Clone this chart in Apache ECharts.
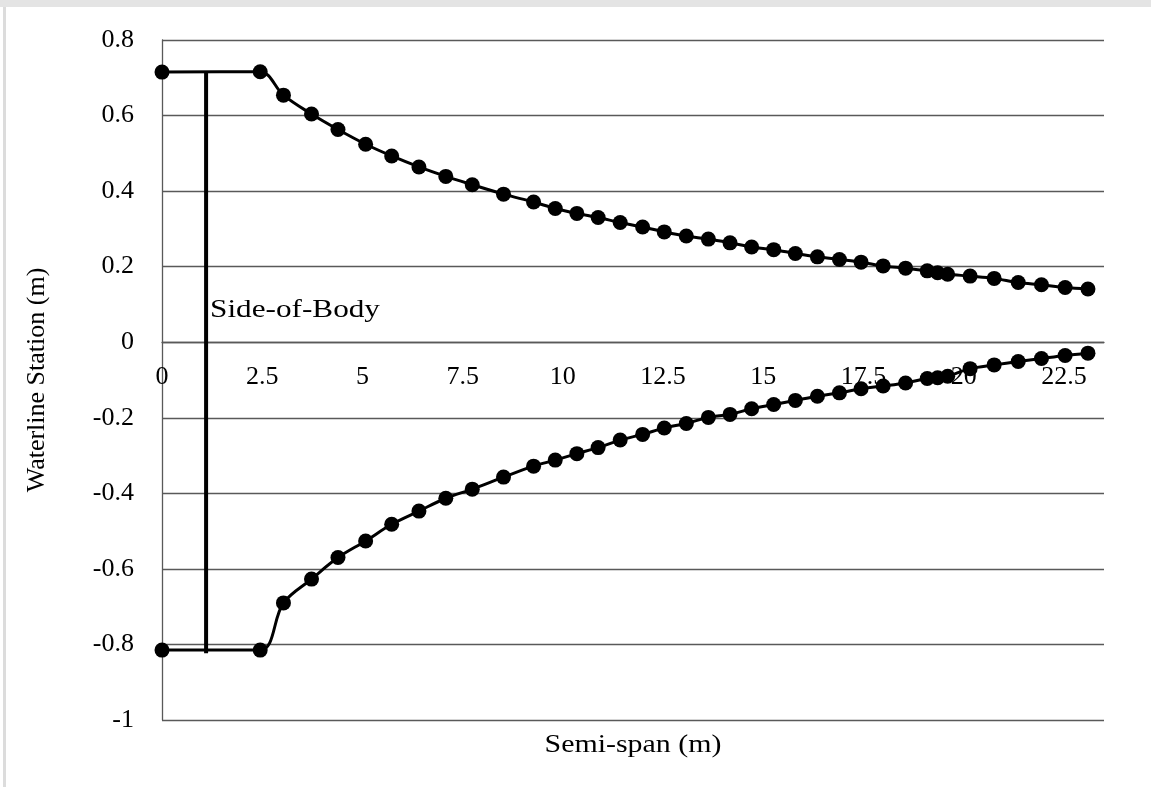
<!DOCTYPE html>
<html>
<head>
<meta charset="utf-8">
<script src="https://cdn.jsdelivr.net/npm/echarts@6/dist/echarts.min.js"></script>
<style>
  html, body { margin: 0; padding: 0; background: #fff; }
  #chart { width: 1151px; height: 787px; }
</style>
</head>
<body>
<div id="chart"></div>
<script>
// Semi-span stations (m) shared by both waterline curves
const spanX = [0, 2.45, 3.03, 3.73, 4.39, 5.08, 5.73, 6.41, 7.08, 7.74, 8.52, 9.27,
  9.81, 10.35, 10.88, 11.43, 11.99, 12.53, 13.08, 13.63, 14.17, 14.71, 15.26, 15.80,
  16.35, 16.90, 17.44, 17.99, 18.55, 19.09, 19.35, 19.60, 20.16, 20.76, 21.36, 21.94,
  22.53, 23.10];

// Upper surface waterline station (m)
const upperWL = [0.715, 0.716, 0.654, 0.604, 0.563, 0.524, 0.493, 0.464, 0.439, 0.417,
  0.392, 0.371, 0.354, 0.341, 0.330, 0.317, 0.305, 0.292, 0.281, 0.273, 0.263, 0.252,
  0.245, 0.235, 0.226, 0.219, 0.212, 0.202, 0.196, 0.189, 0.184, 0.180, 0.175, 0.169,
  0.158, 0.152, 0.145, 0.141];

// Lower surface waterline station (m)
const lowerWL = [-0.815, -0.815, -0.690, -0.627, -0.570, -0.526, -0.482, -0.447, -0.413,
  -0.389, -0.357, -0.328, -0.312, -0.295, -0.279, -0.259, -0.244, -0.227, -0.215, -0.199,
  -0.191, -0.176, -0.165, -0.154, -0.143, -0.134, -0.123, -0.116, -0.108, -0.096, -0.094,
  -0.090, -0.070, -0.060, -0.051, -0.043, -0.035, -0.029];

// Side-of-body station: x position and its vertical extent
const bodyX = [1.1, 1.1];
const bodyWL = [0.716, -0.823];
const bodyLabel = 'Side-of-Body';
const bodyLabelAt = [1.1, 0.085];

// Axis titles and tick labels
const xTitle = 'Semi-span (m)';
const yTitle = 'Waterline Station (m)';
const xTicks = ['0', '2.5', '5', '7.5', '10', '12.5', '15', '17.5', '20', '22.5'];
const yTicks = ['-1', '-0.8', '-0.6', '-0.4', '-0.2', '0', '0.2', '0.4', '0.6', '0.8'];
const yMin = -1, yMax = 0.8;

const FONT_FAMILY = '"Liberation Serif", "Times New Roman", serif';
const AXIS_COLOR = '#595959';
const GRID = { left: 162, right: 47, top: 40, bottom: 67 };
const CHART_W = 1151, CHART_H = 787;

// The horizontal axis crosses the vertical one at zero: shift it up from the grid bottom
const plotH = CHART_H - GRID.top - GRID.bottom;
const zeroOffset = -plotH * (0 - yMin) / (yMax - yMin);

const pairs = (xs, ys) => xs.map((x, i) => [x, ys[i]]);
const tickFormatter = (list) => (v) => {
  const s = String(parseFloat(v.toFixed(2)));
  return list.indexOf(s) >= 0 ? s : '';
};

const chart = echarts.init(document.getElementById('chart'), null, { renderer: 'canvas' });

chart.setOption({
  backgroundColor: '#ffffff',
  animation: false,
  textStyle: { fontFamily: FONT_FAMILY },
  grid: Object.assign({ containLabel: false }, GRID),
  xAxis: {
    type: 'value', min: 0, max: 23.5, interval: 2.5,
    position: 'bottom', offset: zeroOffset,
    axisLine: { onZero: false, lineStyle: { color: AXIS_COLOR, width: 1.3 } },
    axisTick: { show: false },
    splitLine: { show: false },
    axisLabel: {
      margin: 22, fontSize: 26, color: '#000', fontFamily: FONT_FAMILY,
      showMaxLabel: false, formatter: tickFormatter(xTicks)
    }
  },
  yAxis: {
    type: 'value', min: yMin, max: yMax, interval: 0.2,
    name: yTitle, nameLocation: 'middle', nameGap: 112, nameRotate: 90,
    nameTextStyle: { fontSize: 26, color: '#000', fontFamily: FONT_FAMILY },
    axisLine: { show: true, onZero: false, lineStyle: { color: AXIS_COLOR, width: 1.3 } },
    axisTick: { show: false },
    splitLine: { show: true, lineStyle: { color: AXIS_COLOR, width: 1.3 } },
    axisLabel: {
      margin: 28, fontSize: 26, color: '#000', fontFamily: FONT_FAMILY,
      formatter: tickFormatter(yTicks)
    }
  },
  series: [
    {
      name: 'Upper', type: 'line', data: pairs(spanX, upperWL),
      smooth: 0.35, symbol: 'circle', symbolSize: 15,
      itemStyle: { color: '#000' }, lineStyle: { color: '#000', width: 3 }, z: 3
    },
    {
      name: 'Lower', type: 'line', data: pairs(spanX, lowerWL),
      smooth: 0.35, symbol: 'circle', symbolSize: 15,
      itemStyle: { color: '#000' }, lineStyle: { color: '#000', width: 3 }, z: 3
    },
    {
      name: 'Side-of-Body', type: 'line', data: pairs(bodyX, bodyWL),
      symbol: 'none',
      lineStyle: { color: '#000', width: 4 }, z: 2
    }
  ]
});

// Annotation and x-axis title, set in a slightly widened serif face
const labelPx = chart.convertToPixel({ gridIndex: 0 }, bodyLabelAt);
const plotCenterX = GRID.left + (CHART_W - GRID.left - GRID.right) / 2;
chart.setOption({
  graphic: [
    { type: 'rect', z: -10, silent: true,
      shape: { x: 0, y: 0, width: CHART_W, height: 7 },
      style: { fill: '#e4e4e4' } },
    { type: 'rect', z: -10, silent: true,
      shape: { x: 3, y: 7, width: 3, height: CHART_H },
      style: { fill: '#dcdcdc' } },
    { type: 'text', silent: true, x: labelPx[0] + 4, y: labelPx[1], scaleX: 1.2,
      style: { text: bodyLabel, font: '26px ' + FONT_FAMILY, fill: '#000',
               textAlign: 'left', textVerticalAlign: 'middle' } },
    { type: 'text', silent: true, x: plotCenterX, y: 745, scaleX: 1.15,
      style: { text: xTitle, font: '26px ' + FONT_FAMILY, fill: '#000',
               textAlign: 'center', textVerticalAlign: 'middle' } }
  ]
});
</script>
</body>
</html>
